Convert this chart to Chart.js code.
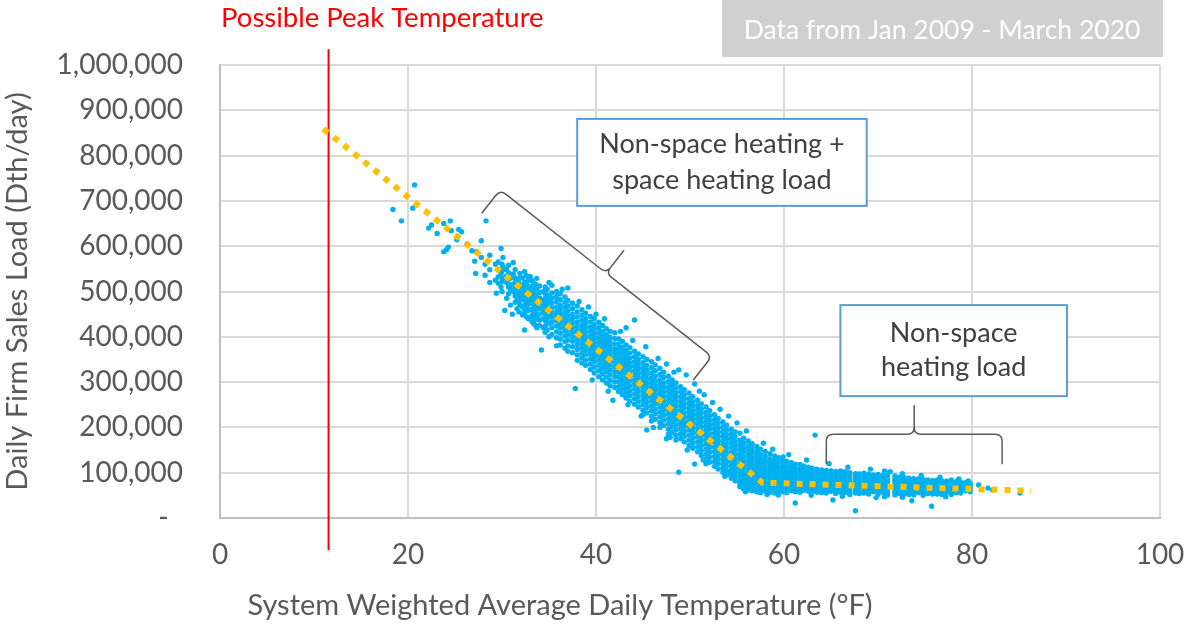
<!DOCTYPE html>
<html>
<head>
<meta charset="utf-8">
<script src="https://cdn.jsdelivr.net/npm/chart.js@4.4.1/dist/chart.umd.min.js"></script>
<style>
  html, body { margin: 0; padding: 0; background: #fff; }
  #wrap { width: 1187px; height: 628px; position: relative; }
</style>
</head>
<body>
<div id="wrap"><canvas id="loadChart"></canvas></div>
<script>
// axis ticks
const tempTicks = [0, 20, 40, 60, 80, 100];
const loadTicks = [0, 100000, 200000, 300000, 400000, 500000, 600000, 700000, 800000, 900000, 1000000];

// daily points: one temperature (°F) per column, loads in thousand Dth/day
const cloudTemp = [
  18.4, 19.3, 20.5, 20.7, 22.2, 22.5, 23.1, 23.8, 24.1, 24.3, 24.5, 24.6, 25.2, 25.4, 25.7, 26.3, 26.8,
  27.1, 27.2, 27.3, 27.8, 28.2, 28.3, 28.7, 29.3, 29.4, 29.9, 30.1, 30.3, 30.5, 30.9, 31.1, 31.2, 31.6, 31.9,
  32.4, 32.8, 33.0, 33.4, 33.7, 34.0, 34.2, 34.4, 34.8, 35.3, 35.8, 36.2, 36.7, 37.0, 37.5, 37.8, 38.0, 38.5,
  38.9, 39.2, 39.4, 39.8, 40.3, 40.7, 41.1, 41.5, 41.8, 42.0, 42.4, 42.8, 43.2, 43.6, 44.1, 44.5, 45.0, 45.3,
  45.4, 45.9, 46.3, 46.8, 47.2, 47.7, 48.1, 48.5, 48.8, 49.0, 49.4, 49.6, 49.9, 50.3, 50.5, 50.8, 51.2, 51.7,
  52.1, 52.6, 53.0, 53.5, 53.9, 54.4, 54.8, 55.3, 55.7, 56.2, 56.6, 57.1, 57.5, 58.0, 58.5, 59.0, 59.4, 59.9,
  60.3, 60.8, 61.2, 61.7, 62.1, 62.6, 63.0, 63.3, 63.5, 64.0, 64.5, 65.0, 65.2, 65.5, 66.0, 66.5, 67.0, 67.6,
  68.0, 68.5, 69.0, 69.5, 70.0, 70.5, 71.0, 71.3, 71.8, 72.3, 72.8, 73.3, 73.6, 73.8, 74.3, 74.8, 75.3, 75.7,
  75.8, 76.3, 76.8, 77.3, 77.8, 78.3, 78.8, 79.3, 79.8, 80.7, 81.7, 82.2, 83.8, 85.1,
  // filling in 29-35 °F
  29.6, 30.0, 30.7, 31.4, 31.8, 32.2, 32.6, 33.2, 33.6, 34.6, 35.0,
  // ragged upper and lower edges of the cloud
  36.4, 38.2, 40.0, 40.9, 42.6, 43.9, 46.6, 47.5, 48.3, 51.0, 51.5, 52.4, 53.2, 54.1, 55.0, 56.0, 57.8, 58.8,
  60.5, 62.4, 64.8, 66.8, 69.2, 70.7, 72.6, 74.6, 76.6, 78.6, 79.6,
  39.6, 41.3, 43.4, 44.8, 46.1, 47.9, 49.7, 51.4, 53.7, 55.9, 58.2, 62.9, 66.2, 69.8, 77.2
];
const cloudLoadK = [
  [681], [656], [684], [735], [640], [647], [628], [650, 588], [592], [598], [656], [634], [614], [637], [632], [605], [590],
  [567], [540], [588], [612, 575], [560, 536], [656], [580, 548, 520], [560, 525], [496], [595, 540, 510],
  [575, 555, 530], [458], [548, 535, 520, 485], [530, 515, 505, 470], [450], [564, 538, 515, 500],
  [525, 510, 495, 480, 462], [540, 510, 495, 485, 470],
  [544, 520, 505, 490, 470, 455, 415], [525, 510, 498, 485, 472, 458, 440], [533, 500, 480, 460, 440],
  [518, 505, 492, 480, 468, 455, 442, 428], [529, 505, 485, 465, 445, 420], [512, 498, 486, 474, 462, 450, 437, 425],
  [371], [500, 480, 468, 455, 440, 420], [505, 492, 480, 470, 461, 452, 440, 428, 415],
  [514, 497, 485, 474, 463, 452, 443, 432, 420, 405], [500, 489, 478, 466, 455, 446, 436, 424, 411, 398, 380],
  [495, 482, 470, 460, 450, 440, 430, 420, 408, 395, 382], [488, 476, 465, 454, 444, 434, 424, 414, 402, 390, 375],
  [508, 480, 468, 457, 446, 436, 426, 416, 405, 393, 380, 368], [474, 462, 450, 440, 430, 420, 410, 400, 390, 378, 365],
  [286], [468, 455, 444, 433, 423, 413, 403, 393, 383, 372, 360, 348], [460, 448, 437, 426, 416, 406, 396, 386, 376, 365, 354, 342],
  [452, 440, 430, 420, 410, 400, 390, 380, 370, 360, 348, 337], [466],
  [445, 433, 422, 412, 402, 392, 382, 372, 362, 351, 340, 328], [440, 427, 416, 405, 395, 385, 375, 365, 355, 345, 333, 320],
  [432, 420, 409, 398, 388, 378, 368, 358, 348, 337, 325, 312], [425, 412, 401, 391, 381, 371, 361, 351, 340, 330, 318, 305],
  [418, 405, 394, 384, 374, 364, 354, 344, 334, 323, 311, 298], [412, 399, 388, 378, 368, 358, 348, 338, 327, 316, 304, 292],
  [260], [409, 396, 384, 373, 363, 353, 343, 333, 322, 311, 300, 288], [395, 383, 372, 362, 352, 342, 332, 322, 312, 301, 290, 279],
  [390, 377, 366, 356, 346, 336, 326, 316, 306, 295, 284, 272], [420, 382, 370, 359, 349, 339, 329, 319, 309, 298, 287, 276, 265],
  [376, 364, 353, 343, 333, 323, 313, 303, 292, 281, 270, 258], [437, 368, 356, 345, 335, 325, 315, 305, 295, 285, 274, 263, 251],
  [362, 350, 339, 329, 319, 309, 299, 289, 279, 268, 257, 245], [356, 343, 332, 322, 312, 302, 292, 282, 272, 261, 250, 238, 228],
  [378], [350, 337, 326, 316, 306, 296, 286, 276, 266, 255, 244, 232, 194], [345, 332, 320, 309, 299, 289, 279, 269, 259, 248, 237, 225, 214],
  [338, 325, 313, 302, 292, 282, 272, 262, 252, 241, 230, 218], [330, 317, 305, 295, 285, 275, 265, 255, 245, 234, 223, 211, 200],
  [322, 310, 298, 288, 278, 268, 258, 248, 238, 227, 216, 204], [313, 301, 290, 280, 270, 260, 250, 240, 230, 219, 208, 196, 185],
  [305, 294, 283, 273, 263, 253, 243, 233, 223, 212, 201, 189], [298, 287, 276, 266, 256, 246, 236, 226, 216, 205, 194, 182, 172],
  [327, 101], [290, 279, 268, 258, 248, 238, 228, 218, 208, 197, 186, 175], [283, 272, 262, 252, 242, 232, 222, 212, 202, 191, 180, 168],
  [316], [276, 264, 254, 244, 234, 224, 214, 204, 194, 183, 172, 160], [268, 257, 247, 237, 227, 217, 207, 197, 187, 176, 165, 154],
  [296, 119], [260, 249, 239, 229, 219, 209, 199, 189, 179, 168, 157, 146], [252, 241, 231, 221, 211, 201, 191, 181, 171, 160, 149, 138],
  [245, 233, 223, 213, 203, 193, 183, 173, 163, 152, 141, 130, 120],
  [237, 226, 216, 206, 196, 186, 176, 166, 156, 145, 134, 123], [228, 217, 207, 197, 187, 177, 167, 157, 147, 136, 125, 114],
  [220, 209, 199, 189, 179, 169, 159, 149, 139, 129, 119, 108], [212, 201, 191, 181, 171, 161, 151, 141, 131, 121, 111, 101],
  [205, 194, 184, 174, 164, 154, 144, 134, 124, 114, 104, 95], [196, 186, 176, 166, 156, 146, 136, 126, 116, 106, 97, 88],
  [190, 179, 169, 159, 149, 139, 129, 119, 109, 100, 91, 82], [187, 172, 162, 152, 142, 132, 122, 112, 102, 93, 84, 76, 69],
  [176, 165, 155, 145, 135, 125, 115, 105, 96, 87, 79, 71, 64], [170, 159, 149, 139, 129, 119, 109, 100, 91, 83, 75, 68, 62],
  [164, 153, 143, 133, 124, 115, 106, 97, 89, 81, 74, 67, 60], [158, 147, 137, 128, 119, 110, 101, 93, 85, 78, 71, 64, 58],
  [152, 141, 131, 122, 113, 105, 97, 89, 82, 75, 68, 62, 56], [147, 136, 126, 117, 109, 101, 93, 86, 79, 72, 66, 60],
  [142, 131, 122, 113, 105, 97, 89, 82, 75, 69, 63, 57], [137, 127, 118, 110, 102, 94, 87, 80, 73, 67, 61, 55],
  [133, 123, 114, 106, 98, 91, 84, 77, 71, 65, 59, 51], [135, 128, 119, 111, 103, 96, 89, 82, 76, 70, 64, 58],
  [125, 116, 108, 100, 93, 86, 79, 73, 67, 61, 56], [122, 113, 105, 98, 91, 84, 78, 72, 66, 60],
  [119, 110, 102, 95, 88, 82, 76, 70, 64, 58, 33], [118, 108, 100, 93, 86, 80, 74, 68, 62, 57],
  [115, 106, 98, 91, 85, 79, 73, 67, 61], [112, 104, 96, 89, 83, 77, 71, 65, 59], [110, 102, 94, 88, 82, 76, 70, 64, 58],
  [183], [108, 100, 93, 86, 80, 74, 68, 62, 57], [106, 98, 91, 85, 79, 73, 67, 61, 56], [105, 97, 90, 84, 78, 72, 66, 60, 55],
  [104, 96, 89, 83, 77, 71, 65, 59], [40], [103, 95, 88, 82, 76, 70, 64, 58, 54], [104, 95, 88, 81, 75, 69, 63, 57],
  [102, 94, 87, 80, 74, 68, 62, 56], [100, 93, 86, 80, 74, 68, 62, 56, 52], [98, 91, 85, 79, 73, 67, 61, 55, 16],
  [97, 90, 84, 78, 72, 66, 60, 54], [99, 91, 84, 78, 72, 66, 60, 55], [97, 90, 83, 77, 71, 65, 59, 53],
  [95, 88, 82, 76, 70, 64, 58], [96, 89, 82, 76, 70, 64, 58, 52], [94, 87, 81, 75, 69, 63, 57],
  [99, 93, 86, 80, 74, 68, 62, 56, 50], [102], [93, 88, 81, 75, 69, 63, 57, 51], [90, 84, 78, 72, 66, 60, 54],
  [89, 83, 77, 71, 65, 59, 53], [88, 82, 76, 70, 64, 58, 52], [38], [87, 81, 75, 69, 63, 57, 51],
  [86, 80, 74, 68, 62, 56], [85, 79, 73, 67, 61, 55, 50], [84, 78, 72, 66, 60, 54], [26],
  [83, 77, 71, 65, 59, 53], [84, 77, 71, 65, 59, 53], [82, 76, 70, 64, 58, 52], [81, 75, 69, 63, 57],
  [84, 77, 70, 64, 58, 52], [80, 74, 68, 62, 56], [79, 73, 67, 61, 55], [78, 72, 66, 60], [76, 70, 64, 58],
  [73], [66], [62], [62], [55],
  // filling in 29-35 °F
  [565, 548, 532, 518], [560, 545, 522, 500], [558, 541, 527, 510, 495], [548, 530, 520, 506, 490, 476],
  [528, 518, 503, 490, 478, 455], [530, 512, 498, 482, 465, 448], [535, 516, 502, 493, 478, 462, 445],
  [524, 512, 498, 486, 473, 460, 447, 433], [515, 500, 490, 477, 463, 452, 438, 425],
  [510, 495, 485, 475, 463, 450, 436, 424, 410], [520, 488, 476, 458, 445, 430, 400],
  // ragged edges
  [505], [478], [450], [440], [412], [392], [352], [340, 175], [322], [280], [272], [255], [240], [225], [210], [192], [165], [152],
  [140], [128], [120], [112], [108], [104, 47], [98, 46], [94], [90], [86], [82],
  [305], [280], [250], [225], [200], [178], [150], [128], [92], [58], [52], [50], [48], [45], [47]
];

// dotted trend line
const trendTemp = [11.0, 57.7, 86.3];
const trendLoad = [859000, 78000, 60000];

// red peak marker, runs a bit past the plot on both ends
const peakTemp = 11.55;
const peakLoadEnds = [-71000, 1035000];

// brace ends [temp, load] and text boxes [left, right, top, bottom] in chart units
const brace1 = [[27.84, 672600], [50.35, 304600]];
const brace2 = [[64.5, 118500], [83.2, 118500]];
const box1 = [38.0, 68.8, 881000, 689000];
const box2 = [66.0, 90.1, 470000, 269000];
const box1Text = ["Non-space heating +", "space heating load"];
const box2Text = ["Non-space", "heating load"];

const FONT = "Lato, 'Open Sans', sans-serif";
const GREY = "#595959";

const cloudPoints = [];
cloudTemp.forEach(function(t, i) {
  cloudLoadK[i].forEach(function(v) { cloudPoints.push({ x: t, y: v * 1000 }); });
});
const trendPoints = trendTemp.map(function(t, i) { return { x: t, y: trendLoad[i] }; });
const peakPoints = peakLoadEnds.map(function(v) { return { x: peakTemp, y: v }; });

function drawBrace(ctx, a, b, depth, tip) {
  const dx = b.x - a.x, dy = b.y - a.y, len = Math.hypot(dx, dy);
  const ux = dx / len, uy = dy / len, nx = uy, ny = -ux;
  const P = function(s, h) { return [a.x + ux * s + nx * h, a.y + uy * s + ny * h]; };
  const r = 7, m = len / 2;
  ctx.beginPath();
  ctx.moveTo.apply(ctx, P(0, 0));
  ctx.lineTo.apply(ctx, P(0, depth - r));
  ctx.quadraticCurveTo.apply(ctx, P(0, depth).concat(P(r, depth)));
  ctx.lineTo.apply(ctx, P(m - r, depth));
  ctx.quadraticCurveTo.apply(ctx, P(m, depth).concat(P(m, depth + r)));
  ctx.lineTo.apply(ctx, P(m, depth + tip));
  ctx.moveTo.apply(ctx, P(m, depth + r));
  ctx.quadraticCurveTo.apply(ctx, P(m, depth).concat(P(m + r, depth)));
  ctx.lineTo.apply(ctx, P(len - r, depth));
  ctx.quadraticCurveTo.apply(ctx, P(len, depth).concat(P(len, depth - r)));
  ctx.lineTo.apply(ctx, P(len, 0));
  ctx.stroke();
}

function drawBox(ctx, x, y, box, lines, lineGap) {
  const l = x.getPixelForValue(box[0]), r = x.getPixelForValue(box[1]);
  const t = y.getPixelForValue(box[2]), b = y.getPixelForValue(box[3]);
  ctx.fillStyle = "#ffffff";
  ctx.fillRect(l, t, r - l, b - t);
  ctx.strokeStyle = "#5B9BD5";
  ctx.lineWidth = 2;
  ctx.strokeRect(l, t, r - l, b - t);
  ctx.fillStyle = "#404040";
  ctx.font = "27px " + FONT;
  ctx.textAlign = "center";
  ctx.textBaseline = "middle";
  const cy = (t + b) / 2 - (lines.length - 1) * lineGap / 2;
  lines.forEach(function(s, i) { ctx.fillText(s, (l + r) / 2, cy + i * lineGap); });
}

const annotations = {
  id: "annotations",
  afterDraw(chart) {
    const ctx = chart.ctx;
    const x = chart.scales.x, y = chart.scales.y;
    ctx.save();
    // red label above the plot
    ctx.fillStyle = "#FF0000";
    ctx.font = "27.5px " + FONT;
    ctx.textAlign = "left";
    ctx.textBaseline = "middle";
    ctx.fillText("Possible Peak Temperature", 221, 18);
    // x axis title sits left of the plot centre in the original
    ctx.fillStyle = GREY;
    ctx.font = "29px " + FONT;
    ctx.textAlign = "center";
    ctx.fillText("System Weighted Average Daily Temperature (°F)", 560, 606);
    // grey data-range tag
    ctx.fillStyle = "#D0D0D0";
    ctx.fillRect(722, 0, 441, 57);
    ctx.fillStyle = "#ffffff";
    ctx.font = "26.5px " + FONT;
    ctx.fillText("Data from Jan 2009 - March 2020", 942, 30);
    // braces
    ctx.strokeStyle = GREY;
    ctx.lineWidth = 1.5;
    const pt = function(p) { return { x: x.getPixelForValue(p[0]), y: y.getPixelForValue(p[1]) }; };
    drawBrace(ctx, pt(brace1[0]), pt(brace1[1]), 30, 29);
    drawBrace(ctx, pt(brace2[0]), pt(brace2[1]), 30, 29);
    // text boxes
    drawBox(ctx, x, y, box1, box1Text, 36);
    drawBox(ctx, x, y, box2, box2Text, 34);
    ctx.restore();
  }
};

new Chart(document.getElementById("loadChart"), {
  type: "scatter",
  data: {
    datasets: [
      {
        label: "Trend",
        data: trendPoints,
        showLine: true,
        borderColor: "#FFC000",
        borderWidth: 6,
        borderDash: [6, 7],
        borderCapStyle: "butt",
        pointRadius: 0,
        tension: 0
      },
      {
        label: "Possible Peak Temperature",
        data: peakPoints,
        showLine: true,
        borderColor: "#FF0000",
        borderWidth: 2,
        pointRadius: 0,
        clip: false
      },
      {
        label: "Daily Firm Sales Load",
        data: cloudPoints,
        backgroundColor: "#00B0F0",
        borderWidth: 0,
        pointRadius: 2.7
      }
    ]
  },
  options: {
    responsive: true,
    maintainAspectRatio: false,
    animation: false,
    events: [],
    layout: { padding: { top: 65, right: 27, bottom: 0, left: 0 } },
    plugins: {
      legend: { display: false },
      tooltip: { enabled: false }
    },
    scales: {
      x: {
        type: "linear",
        min: 0,
        max: 100,
        afterBuildTicks: function(s) { s.ticks = tempTicks.map(function(v) { return { value: v }; }); },
        afterFit: function(s) { s.height = 110; s.paddingLeft = 0; s.paddingRight = 0; },
        grid: { color: "#D9D9D9", lineWidth: 2, drawTicks: false },
        border: { color: "#BFBFBF", width: 2 },
        ticks: { color: GREY, font: { family: FONT, size: 28 }, padding: 20, maxRotation: 0 },
        title: { display: false }
      },
      y: {
        type: "linear",
        min: 0,
        max: 1000000,
        afterBuildTicks: function(s) { s.ticks = loadTicks.map(function(v) { return { value: v }; }); },
        afterFit: function(s) { s.width = 220; },
        grid: { color: "#D9D9D9", lineWidth: 2, drawTicks: false },
        border: { color: "#BFBFBF", width: 2 },
        ticks: {
          color: GREY,
          font: { family: FONT, size: 28 },
          padding: 37,
          callback: function(v) { return v === 0 ? "-  " : v.toLocaleString("en-US"); }
        },
        title: {
          display: true,
          text: "Daily Firm Sales Load (Dth/day)",
          color: GREY,
          font: { family: FONT, size: 29 },
          padding: { top: 0, bottom: 0 }
        }
      }
    }
  },
  plugins: [annotations]
});
</script>
</body>
</html>
